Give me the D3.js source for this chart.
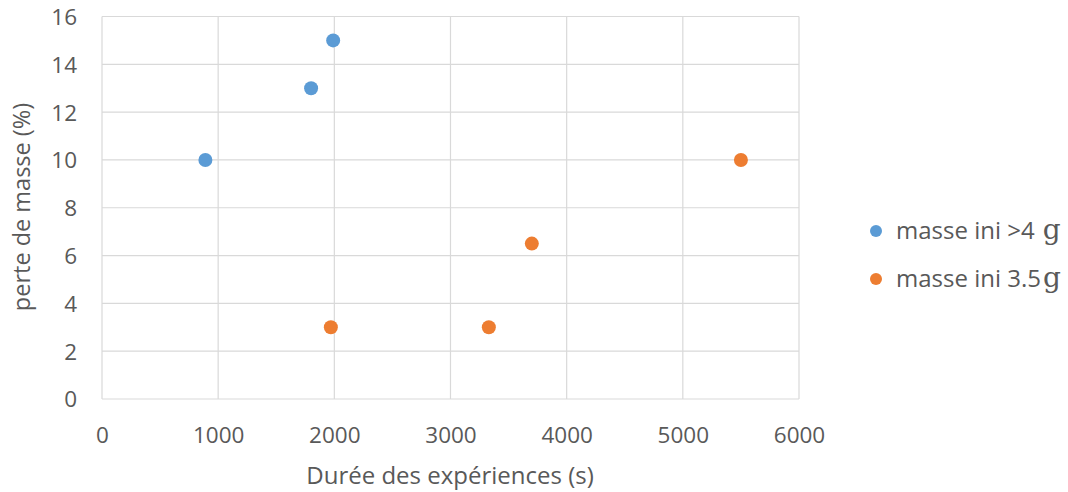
<!DOCTYPE html>
<html><head><meta charset="utf-8">
<script src="https://cdn.jsdelivr.net/npm/d3@7"></script>
<style>body{margin:0;background:#fff}svg{display:block}</style>
</head><body>
<svg id="c" width="1068" height="492"></svg>
<script>
const seriesNames = ["masse ini >4", "masse ini 3.5"];
const seriesColors = ["#5B9BD5", "#ED7D31"];
const blueX = [890, 1800, 1990];
const blueY = [10, 13, 15];
const orangeX = [1970, 3330, 3700, 5500];
const orangeY = [3, 3, 6.5, 10];
const xTicks = [0, 1000, 2000, 3000, 4000, 5000, 6000];
const yTicks = [0, 2, 4, 6, 8, 10, 12, 14, 16];

const svg = d3.select("#c");
const font = "'Open Sans', sans-serif";
const textCol = "#595959";
const x = d3.scaleLinear().domain([0, 6000]).range([102, 799]);
const y = d3.scaleLinear().domain([0, 16]).range([399, 16.5]);

// grid
svg.append("g").selectAll("line").data(xTicks).join("line")
  .attr("x1", d => x(d)).attr("x2", d => x(d)).attr("y1", y(0)).attr("y2", y(16))
  .attr("stroke", "#d9d9d9").attr("stroke-width", 1.2);
svg.append("g").selectAll("line").data(yTicks).join("line")
  .attr("x1", x(0)).attr("x2", x(6000)).attr("y1", d => y(d)).attr("y2", d => y(d))
  .attr("stroke", "#d9d9d9").attr("stroke-width", 1.2);

// axes (labels only)
const xAxis = d3.axisBottom(x).tickValues(xTicks).tickSize(0).tickPadding(0).tickFormat(d3.format("d"));
const gx = svg.append("g").attr("transform", `translate(0,${y(0)})`).call(xAxis);
gx.select(".domain").remove();
gx.selectAll("text").attr("dy", null).attr("y", 44).attr("font-family", font).attr("font-size", 22.5).attr("fill", textCol);

const yAxis = d3.axisLeft(y).tickValues(yTicks).tickSize(0).tickPadding(0).tickFormat(d3.format("d"));
const gy = svg.append("g").attr("transform", `translate(77,0)`).call(yAxis);
gy.select(".domain").remove();
gy.selectAll("text").attr("x", 0).attr("dy", "0.35em").attr("font-family", font).attr("font-size", 22.5).attr("fill", textCol);

// titles
svg.append("text").attr("x", 450).attr("y", 484).attr("text-anchor", "middle")
  .attr("font-family", font).attr("font-size", 24).attr("fill", textCol).text("Durée des expériences (s)");
svg.append("text").attr("transform", "translate(30,207) rotate(-90)").attr("text-anchor", "middle")
  .attr("font-family", font).attr("font-size", 23.5).attr("fill", textCol).text("perte de masse (%)");

// points
const series = [
  {xs: blueX, ys: blueY},
  {xs: orangeX, ys: orangeY}
];
series.forEach((s, i) => {
  svg.append("g").selectAll("circle").data(s.xs.map((v, j) => [v, s.ys[j]])).join("circle")
    .attr("cx", d => x(d[0])).attr("cy", d => y(d[1])).attr("r", 7)
    .attr("fill", seriesColors[i]);
});

// legend
const legY = [231, 279];
seriesNames.forEach((n, i) => {
  svg.append("circle").attr("cx", 876).attr("cy", legY[i]).attr("r", 6).attr("fill", seriesColors[i]);
  const t = svg.append("text").attr("x", 896).attr("y", legY[i]).attr("dy", "0.35em")
    .attr("font-family", font).attr("font-size", 24).attr("fill", textCol);
  t.append("tspan").text(n);
  t.append("tspan").attr("dx", i === 0 ? 8 : 2).attr("font-family", "'DejaVu Serif', serif").attr("font-size", 28).text("g");
});
</script>
</body></html>
